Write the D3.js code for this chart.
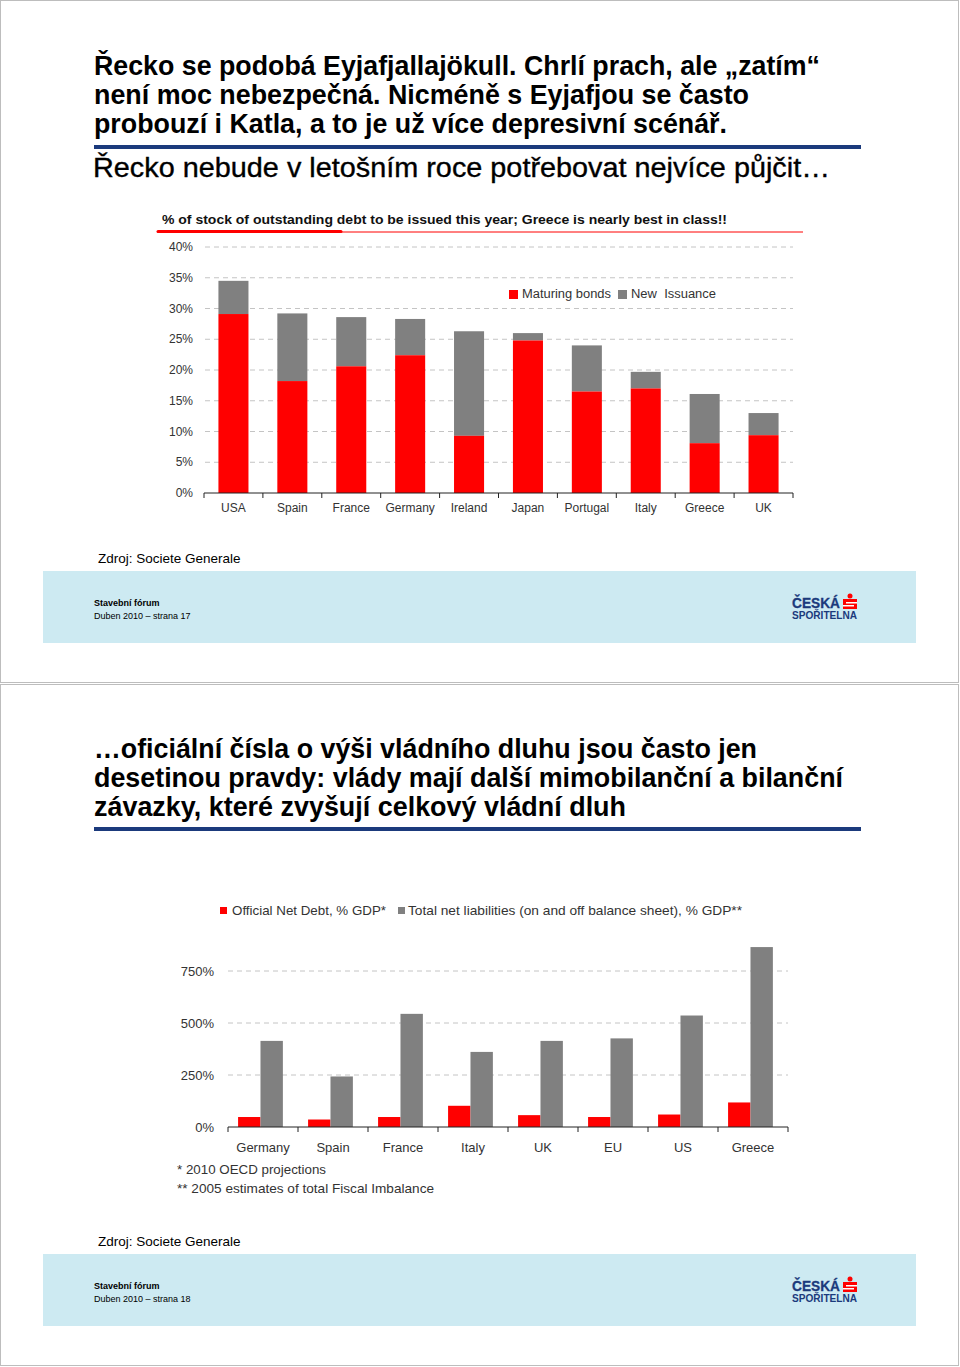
<!DOCTYPE html>
<html><head><meta charset="utf-8">
<script src="https://cdn.jsdelivr.net/npm/d3@7"></script>
<style>
body{margin:0;background:#fff;}
svg{display:block;font-family:"Liberation Sans",Arial,sans-serif;}
</style></head>
<body><svg id="c" width="960" height="1367"></svg>
<script>
// ---------- DATA ----------
const topCategories = ["USA","Spain","France","Germany","Ireland","Japan","Portugal","Italy","Greece","UK"];
const maturingBonds = [29.1,18.2,20.6,22.4,9.3,24.8,16.5,17.0,8.1,9.4];
const totalIssuance = [34.5,29.2,28.6,28.3,26.3,26.0,24.0,19.7,16.1,13.0];
const topTicks = [0,5,10,15,20,25,30,35,40];
const topSeriesNames = ["Maturing bonds","New  Issuance"];

const botCategories = ["Germany","Spain","France","Italy","UK","EU","US","Greece"];
const officialNetDebt = [48,36,48,102,57,48,60,118];
const totalNetLiabilities = [414,243,544,361,414,426,536,865];
const botTicks = [0,250,500,750];
const botSeriesNames = ["Official Net Debt, % GDP*","Total net liabilities (on and off balance sheet), % GDP**"];

const RED="#ff0000", GRAY="#808080", NAVY="#1b3a7c", TXT="#333";
const svg = d3.select("#c");

// page frames
svg.append("rect").attr("x",0.5).attr("y",0.5).attr("width",958).attr("height",682).attr("fill","none").attr("stroke","#bdbdbd");
svg.append("rect").attr("x",0.5).attr("y",684.5).attr("width",958).attr("height",681).attr("fill","none").attr("stroke","#bdbdbd");

function heading(lines, widths, y0){
  const t = svg.append("g");
  lines.forEach((l,i)=>t.append("text").attr("x",94).attr("y",y0+i*29)
    .attr("font-size",26.8).attr("font-weight","bold").attr("fill","#000")
    .attr("textLength",widths[i]).attr("lengthAdjust","spacingAndGlyphs").text(l));
}
heading(["Řecko se podobá Eyjafjallajökull. Chrlí prach, ale „zatím“",
         "není moc nebezpečná. Nicméně s Eyjafjou se často",
         "probouzí i Katla, a to je už více depresivní scénář."],[726,655,633],75);
svg.append("rect").attr("x",94).attr("y",145).attr("width",767).attr("height",4).attr("fill",NAVY);
svg.append("text").attr("x",93).attr("y",177).attr("font-size",27).attr("fill","#000")
  .attr("stroke","#000").attr("stroke-width",0.35)
  .attr("textLength",737).attr("lengthAdjust","spacingAndGlyphs")
  .text("Řecko nebude v letošním roce potřebovat nejvíce půjčit…");

heading(["…oficiální čísla o výši vládního dluhu jsou často jen",
         "desetinou pravdy: vlády mají další mimobilanční a bilanční",
         "závazky, které zvyšují celkový vládní dluh"],[663,749,532],758);
svg.append("rect").attr("x",94).attr("y",827).attr("width",767).attr("height",4).attr("fill",NAVY);

// ---------- TOP CHART ----------
svg.append("text").attr("x",162).attr("y",224).attr("font-size",13).attr("font-weight","bold").attr("fill","#111")
  .attr("textLength",565).attr("lengthAdjust","spacingAndGlyphs")
  .text("% of stock of outstanding debt to be issued this year; Greece is nearly best in class!!");
svg.append("line").attr("x1",157).attr("x2",803).attr("y1",232).attr("y2",232).attr("stroke",RED).attr("stroke-width",1);
svg.append("line").attr("x1",158).attr("x2",341).attr("y1",231.5).attr("y2",231.5).attr("stroke",RED).attr("stroke-width",3).attr("stroke-linecap","round");

const tx = d3.scaleBand().domain(topCategories).range([204,793]).paddingInner(0.49).paddingOuter(0.245);
const tb = d3.scaleBand().domain(topCategories).range([204,793]);
const ty = d3.scaleLinear().domain([0,40]).range([493,247]);

const tg = svg.append("g");
tg.selectAll(".grid").data(topTicks.filter(d=>d>0)).join("line")
  .attr("x1",205).attr("x2",793).attr("y1",d=>ty(d)).attr("y2",d=>ty(d))
  .attr("stroke","#c4c4c4").attr("stroke-dasharray","5,4");
tg.selectAll(".yl").data(topTicks).join("text")
  .attr("x",193).attr("y",d=>ty(d)+4).attr("text-anchor","end").attr("font-size",12).attr("fill",TXT)
  .text(d=>d+"%");
topCategories.forEach((c,i)=>{
  tg.append("rect").attr("x",tx(c)).attr("width",tx.bandwidth()).attr("y",ty(totalIssuance[i]))
    .attr("height",ty(maturingBonds[i])-ty(totalIssuance[i])).attr("fill",GRAY);
  tg.append("rect").attr("x",tx(c)).attr("width",tx.bandwidth()).attr("y",ty(maturingBonds[i]))
    .attr("height",ty(0)-ty(maturingBonds[i])).attr("fill",RED);
});
const tax = tg.append("g").attr("transform",`translate(0,${ty(0)})`);
tax.append("line").attr("x1",204).attr("x2",793).attr("stroke","#222");
const tBounds = topCategories.map(c=>tb(c)).concat([793]);
tax.selectAll(".tk").data(tBounds).join("line").attr("x1",d=>d).attr("x2",d=>d).attr("y1",0).attr("y2",5).attr("stroke","#222");
tax.selectAll(".xl").data(topCategories).join("text").attr("x",c=>tb(c)+tb.bandwidth()/2).attr("y",19)
  .attr("text-anchor","middle").attr("font-size",12).attr("fill",TXT).text(c=>c);
// legend
const tl = tg.append("g").attr("transform","translate(509,294)");
tl.append("rect").attr("x",0).attr("y",-4).attr("width",9).attr("height",9).attr("fill",RED);
tl.append("text").attr("x",13).attr("y",4).attr("font-size",12).attr("fill",TXT)
  .attr("textLength",89).attr("lengthAdjust","spacingAndGlyphs").text(topSeriesNames[0]);
tl.append("rect").attr("x",109).attr("y",-4).attr("width",9).attr("height",9).attr("fill",GRAY);
tl.append("text").attr("x",122).attr("y",4).attr("font-size",12).attr("fill",TXT).style("white-space","pre")
  .attr("textLength",85).attr("lengthAdjust","spacingAndGlyphs").text(topSeriesNames[1]);

// ---------- BOTTOM CHART ----------
const bx0 = d3.scaleBand().domain(botCategories).range([228,788]).paddingInner(0.36).paddingOuter(0.18).align(0.4);
const bb = d3.scaleBand().domain(botCategories).range([228,788]);
const bx1 = d3.scaleBand().domain([0,1]).range([0,bx0.bandwidth()]);
const by = d3.scaleLinear().domain([0,900]).range([1127,939.8]);
const bg = svg.append("g");
bg.selectAll(".grid").data(botTicks.filter(d=>d>0)).join("line")
  .attr("x1",228).attr("x2",788).attr("y1",d=>by(d)).attr("y2",d=>by(d))
  .attr("stroke","#c4c4c4").attr("stroke-dasharray","5,4");
bg.selectAll(".yl").data(botTicks).join("text")
  .attr("x",214).attr("y",d=>by(d)+5).attr("text-anchor","end").attr("font-size",13).attr("fill",TXT)
  .text(d=>d+"%");
botCategories.forEach((c,i)=>{
  bg.append("rect").attr("x",bx0(c)+bx1(0)).attr("width",bx1.bandwidth()).attr("y",by(officialNetDebt[i]))
    .attr("height",by(0)-by(officialNetDebt[i])).attr("fill",RED);
  bg.append("rect").attr("x",bx0(c)+bx1(1)).attr("width",bx1.bandwidth()).attr("y",by(totalNetLiabilities[i]))
    .attr("height",by(0)-by(totalNetLiabilities[i])).attr("fill",GRAY);
});
const bax = bg.append("g").attr("transform",`translate(0,${by(0)})`);
bax.append("line").attr("x1",228).attr("x2",788).attr("stroke","#222");
bax.selectAll(".tk").data(botCategories.map(c=>bb(c)).concat([788])).join("line")
  .attr("x1",d=>d).attr("x2",d=>d).attr("y1",0).attr("y2",5).attr("stroke","#222");
bax.selectAll(".xl").data(botCategories).join("text").attr("x",c=>bb(c)+bb.bandwidth()/2).attr("y",25)
  .attr("text-anchor","middle").attr("font-size",13).attr("fill",TXT).text(c=>c);
const bl = bg.append("g").attr("transform","translate(220,910)");
bl.append("rect").attr("x",0).attr("y",-3).attr("width",7).attr("height",7).attr("fill",RED);
bl.append("text").attr("x",12).attr("y",5).attr("font-size",13).attr("fill",TXT)
  .attr("textLength",154).attr("lengthAdjust","spacingAndGlyphs").text(botSeriesNames[0]);
bl.append("rect").attr("x",178).attr("y",-3).attr("width",7).attr("height",7).attr("fill",GRAY);
bl.append("text").attr("x",188).attr("y",5).attr("font-size",13).attr("fill",TXT)
  .attr("textLength",334).attr("lengthAdjust","spacingAndGlyphs").text(botSeriesNames[1]);
bg.append("text").attr("x",177).attr("y",1174).attr("font-size",13).attr("fill",TXT)
  .attr("textLength",149).attr("lengthAdjust","spacingAndGlyphs").text("* 2010 OECD projections");
bg.append("text").attr("x",177).attr("y",1193).attr("font-size",13).attr("fill",TXT)
  .attr("textLength",257).attr("lengthAdjust","spacingAndGlyphs").text("** 2005 estimates of total Fiscal Imbalance");

// ---------- SOURCES & FOOTERS ----------
function footer(y, page){
  svg.append("text").attr("x",98).attr("y",y-8).attr("font-size",13.5).attr("fill","#000").text("Zdroj: Societe Generale");
  svg.append("rect").attr("x",43).attr("y",y).attr("width",873).attr("height",72).attr("fill","#cdeaf2");
  svg.append("text").attr("x",94).attr("y",y+35).attr("font-size",9).attr("font-weight","bold").attr("fill","#000").text("Stavební fórum");
  svg.append("text").attr("x",94).attr("y",y+48).attr("font-size",9).attr("fill","#000").text("Duben 2010 – strana "+page);
  const lg = svg.append("g").attr("transform",`translate(792,${y+21})`);
  lg.append("text").attr("x",0).attr("y",16).attr("font-size",15.5).attr("font-weight","bold").attr("fill",NAVY)
    .attr("stroke",NAVY).attr("stroke-width",0.3)
    .attr("textLength",48).attr("lengthAdjust","spacingAndGlyphs").text("ČESKÁ");
  lg.append("text").attr("x",0).attr("y",26.5).attr("font-size",11).attr("font-weight","bold").attr("fill",NAVY)
    .attr("textLength",65).attr("lengthAdjust","spacingAndGlyphs").text("SPOŘITELNA");
  // red logo symbol
  lg.append("circle").attr("cx",58).attr("cy",4).attr("r",2.5).attr("fill",RED);
  lg.append("rect").attr("x",51).attr("y",7).attr("width",14).attr("height",10).attr("fill",RED);
  lg.append("rect").attr("x",54).attr("y",10).attr("width",11).attr("height",1.5).attr("fill","#fff");
  lg.append("rect").attr("x",51).attr("y",13).attr("width",11).attr("height",1.5).attr("fill","#fff");
}
footer(571,17);
footer(1254,18);
</script></body></html>
